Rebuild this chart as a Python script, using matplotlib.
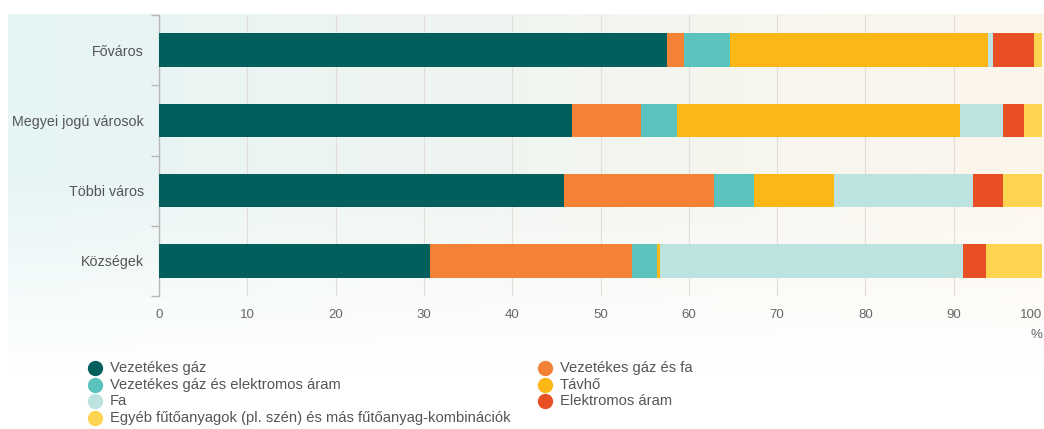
import numpy as np
import matplotlib
matplotlib.use("Agg")
import matplotlib.pyplot as plt

# Heating type shares by settlement type (%)
categories = ["Főváros", "Megyei jogú városok", "Többi város", "Községek"]
series_labels = [
    "Vezetékes gáz",
    "Vezetékes gáz és fa",
    "Vezetékes gáz és elektromos áram",
    "Távhő",
    "Fa",
    "Elektromos áram",
    "Egyéb fűtőanyagok (pl. szén) és más fűtőanyag-kombinációk",
]
vezetekes_gaz = [57.5, 46.8, 45.9, 30.7]
gaz_es_fa = [1.9, 7.8, 17.0, 22.9]
gaz_es_elektromos = [5.3, 4.1, 4.5, 2.8]
tavho = [29.2, 32.0, 9.1, 0.3]
fa = [0.6, 4.9, 15.7, 34.3]
elektromos = [4.6, 2.4, 3.4, 2.7]
egyeb = [0.9, 2.0, 4.4, 6.3]
series_values = [vezetekes_gaz, gaz_es_fa, gaz_es_elektromos, tavho, fa, elektromos, egyeb]
x_ticks = list(range(0, 101, 10))

colors = ["#035f5c", "#f38236", "#5ac3bd", "#fbb716", "#bde3e1", "#e84f25", "#fdd44f"]

W, H = 1044, 429
fig = plt.figure(figsize=(W / 100, H / 100), dpi=100)
fig.patch.set_facecolor("white")

# soft background wash: teal on the left, cream on the right, fading to white below
bg = fig.add_axes([0, 0, 1, 1], zorder=-10)
bg.set_axis_off()
xs = np.arange(W)
ys = np.arange(H)
left_c = np.array([229, 244, 245]) / 255
right_c = np.array([253, 246, 236]) / 255
t = np.clip((xs - 8) / (W - 8), 0, 1)[None, :, None]
row_col = left_c * (1 - t) + right_c * t
alpha = np.clip((370 - ys) / (370 - 170), 0, 1)[:, None, None]
alpha = alpha * (ys >= 14)[:, None, None] * (xs >= 8)[None, :, None]
img = np.ones((H, W, 3)) * (1 - alpha) + row_col * alpha
bg.imshow(img, extent=[0, 1, 0, 1], aspect="auto", origin="upper")
bg.set_xlim(0, 1)
bg.set_ylim(0, 1)

ax = fig.add_axes([159 / W, 1 - 296 / H, 883 / W, 281 / H])
ax.set_facecolor("none")

y = np.arange(len(categories))
left = np.zeros(len(categories))
for vals, col, lab in zip(series_values, colors, series_labels):
    ax.barh(y, vals, left=left, height=0.48, color=col, label=lab, zorder=3)
    left += np.array(vals)

ax.set_xlim(0, 100)
ax.set_ylim(len(categories) - 0.5, -0.5)

for s in ["top", "right", "bottom"]:
    ax.spines[s].set_visible(False)
ax.spines["left"].set_color("#b8b8b8")
ax.spines["left"].set_linewidth(1.0)

ax.set_xticks(x_ticks)
xlabels = ax.set_xticklabels([str(v) for v in x_ticks], fontsize=9.5, color="#666666",
                             family="Liberation Sans")
xlabels[-1].set_horizontalalignment("right")
ax.tick_params(axis="x", length=0, pad=9)
ax.grid(axis="x", color="#e3ddd8", linewidth=0.8, zorder=0)

ax.set_yticks(np.arange(-0.5, len(categories) + 0.5, 1.0))
ax.set_yticklabels([])
ax.tick_params(axis="y", which="major", length=6, color="#b8b8b8", width=1.0)
ax.set_yticks(y, minor=True)
ax.set_yticklabels(categories, minor=True, fontsize=10.3, color="#555555",
                   family="Liberation Sans")
ax.tick_params(axis="y", which="minor", length=0, pad=11)

fig.text(1036 / W, 1 - 335 / H, "%", ha="center", va="center",
         fontsize=9.5, color="#666666", family="Liberation Sans")

# legend laid out row by row in two columns
col_marker_x = [95, 545]
col_text_x = [110, 560]
row_y0, row_dy = 368, 16.7
for i, (lab, col) in enumerate(zip(series_labels, colors)):
    c, r = i % 2, i // 2
    yy = 1 - (row_y0 + r * row_dy) / H
    fig.add_artist(plt.Line2D([col_marker_x[c] / W], [yy], marker="o",
                              markersize=10, color=col, linestyle="none",
                              transform=fig.transFigure))
    fig.text(col_text_x[c] / W, yy, lab, ha="left", va="center",
             fontsize=10.6, color="#555555", family="Liberation Sans")

fig.savefig("out.png", dpi=100)
